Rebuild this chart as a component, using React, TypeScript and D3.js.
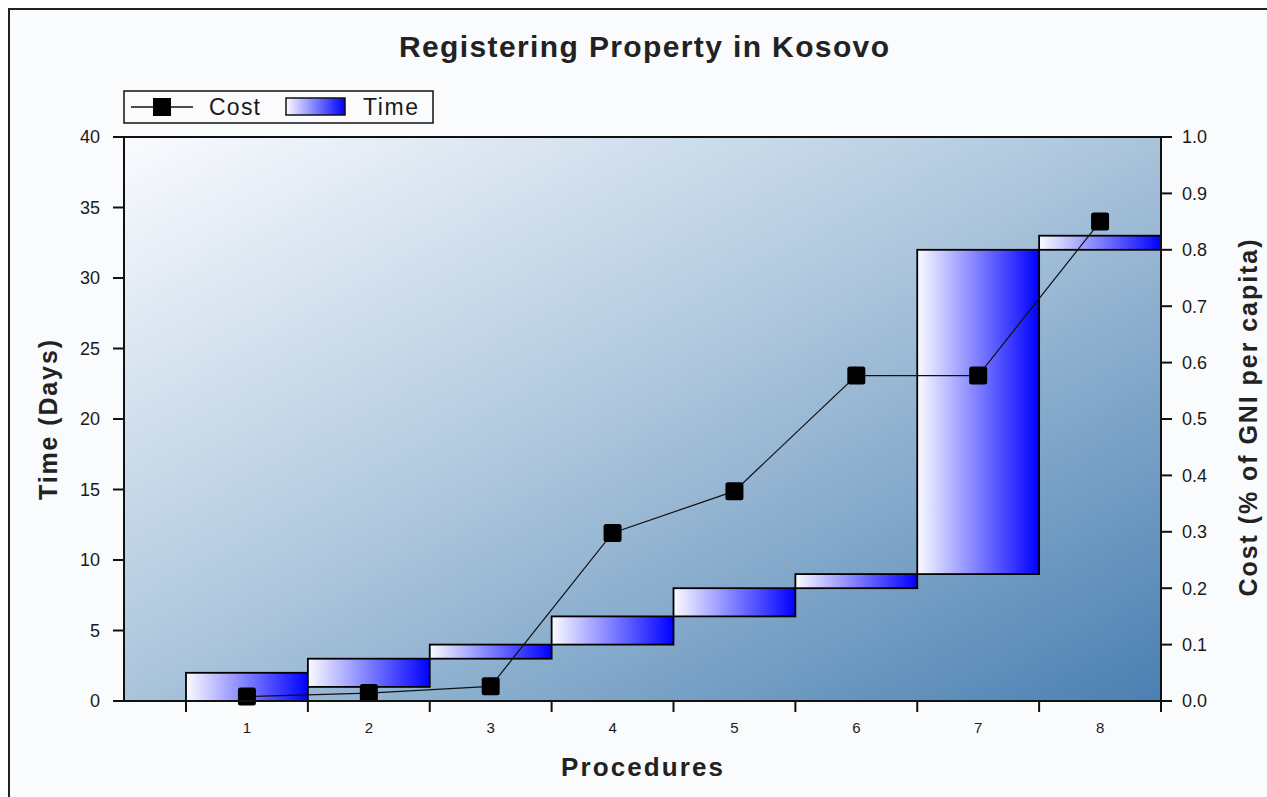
import React from "react";
import * as d3 from "d3";

// data
const procedures = ["1", "2", "3", "4", "5", "6", "7", "8"];
const timeStart = [0, 1, 3, 4, 6, 8, 9, 32];
const timeEnd = [2, 3, 4, 6, 8, 9, 32, 33];
const costValues = [0.008, 0.014, 0.026, 0.298, 0.372, 0.577, 0.577, 0.85];
const timeTicks = [0, 5, 10, 15, 20, 25, 30, 35, 40];
const costTicks = [0, 0.1, 0.2, 0.3, 0.4, 0.5, 0.6, 0.7, 0.8, 0.9, 1.0];

const W = 1267;
const H = 797;
const plot = { left: 124, right: 1161, top: 137, bottom: 701 };
const bandStart = 186;
const font = "'Liberation Sans', Arial, sans-serif";
const ink = "#1a1a1a";

export default function App() {
  const x = d3
    .scaleBand<string>()
    .domain(procedures)
    .range([bandStart, plot.right])
    .paddingInner(0)
    .paddingOuter(0);
  const bw = x.bandwidth();
  const yTime = d3.scaleLinear().domain([0, 40]).range([plot.bottom, plot.top]);
  const yCost = d3.scaleLinear().domain([0, 1]).range([plot.bottom, plot.top]);

  const costPts = procedures.map((p, i) => [x(p)! + bw / 2, yCost(costValues[i])] as [number, number]);
  const costLine = d3.line()(costPts) ?? "";

  const boundaries = d3.range(procedures.length + 1).map((i) => bandStart + i * bw);
  const marker = 18;

  return (
    <svg
      width={W}
      height={H}
      style={{ position: "absolute", left: 0, top: 0, fontFamily: font }}
    >
      <defs>
        <linearGradient id="bg" x1="0" y1="0" x2="1" y2="1">
          <stop offset="0" stopColor="#fafbff" />
          <stop offset="0.45" stopColor="#b2cadf" />
          <stop offset="1" stopColor="#4a80b2" />
        </linearGradient>
        <linearGradient id="bar" x1="0" y1="0" x2="1" y2="0">
          <stop offset="0" stopColor="#fbfbff" />
          <stop offset="1" stopColor="#0000ff" />
        </linearGradient>
        <clipPath id="plotClip">
          <rect x={plot.left} y={plot.top} width={plot.right - plot.left} height={plot.bottom - plot.top} />
        </clipPath>
      </defs>

      {/* page frame */}
      <rect x={0} y={0} width={W} height={H} fill="#fff" />
      <rect x={9} y={9} width={W + 40} height={H + 40} fill="#fafbfd" stroke="#222" strokeWidth={2} />

      {/* title */}
      <text
        x={644}
        y={57}
        textAnchor="middle"
        fontSize={30}
        fontWeight="bold"
        fill="#222"
        textLength={490}
        lengthAdjust="spacing"
      >
        Registering Property in Kosovo
      </text>

      {/* plot background */}
      <rect
        x={plot.left}
        y={plot.top}
        width={plot.right - plot.left}
        height={plot.bottom - plot.top}
        fill="url(#bg)"
      />

      {/* time bars */}
      <g clipPath="url(#plotClip)">
        {procedures.map((p, i) => (
          <rect
            key={p}
            x={x(p)!}
            y={yTime(timeEnd[i])}
            width={bw}
            height={yTime(timeStart[i]) - yTime(timeEnd[i])}
            fill="url(#bar)"
            stroke="#000"
            strokeWidth={1.8}
          />
        ))}
      </g>

      {/* cost line */}
      <path d={costLine} fill="none" stroke="#111" strokeWidth={1.2} />
      {costPts.map(([cx, cy], i) => (
        <rect
          key={i}
          x={cx - marker / 2}
          y={cy - marker / 2}
          width={marker}
          height={marker}
          rx={2.5}
          fill="#000"
        />
      ))}

      {/* frame of plot */}
      <rect
        x={plot.left}
        y={plot.top}
        width={plot.right - plot.left}
        height={plot.bottom - plot.top}
        fill="none"
        stroke="#111"
        strokeWidth={2}
      />

      {/* left axis */}
      <g fontSize={18} fill={ink}>
        {timeTicks.map((t) => (
          <g key={t}>
            <line x1={plot.left - 11} x2={plot.left} y1={yTime(t)} y2={yTime(t)} stroke="#111" strokeWidth={2} />
            <text x={100} y={yTime(t)} dy="0.36em" textAnchor="end">
              {t}
            </text>
          </g>
        ))}
      </g>

      {/* right axis */}
      <g fontSize={18} fill={ink}>
        {costTicks.map((t) => (
          <g key={t}>
            <line x1={plot.right} x2={plot.right + 11} y1={yCost(t)} y2={yCost(t)} stroke="#111" strokeWidth={2} />
            <text x={1182} y={yCost(t)} dy="0.36em" textAnchor="start">
              {d3.format(".1f")(t)}
            </text>
          </g>
        ))}
      </g>

      {/* bottom axis */}
      <g fontSize={15} fill={ink}>
        {boundaries.map((b, i) => (
          <line key={i} x1={b} x2={b} y1={plot.bottom} y2={plot.bottom + 11} stroke="#111" strokeWidth={2} />
        ))}
        {procedures.map((p) => (
          <text key={p} x={x(p)! + bw / 2} y={733} textAnchor="middle">
            {p}
          </text>
        ))}
      </g>

      {/* axis titles */}
      <text
        x={642}
        y={776}
        textAnchor="middle"
        fontSize={26}
        fontWeight="bold"
        fill="#222"
        textLength={162}
        lengthAdjust="spacing"
      >
        Procedures
      </text>
      <text
        transform="translate(57,420) rotate(-90)"
        textAnchor="middle"
        fontSize={25}
        fontWeight="bold"
        fill="#222"
        textLength={160}
        lengthAdjust="spacing"
      >
        Time (Days)
      </text>
      <text
        transform="translate(1257,418) rotate(-90)"
        textAnchor="middle"
        fontSize={25}
        fontWeight="bold"
        fill="#222"
        textLength={357}
        lengthAdjust="spacing"
      >
        Cost (% of GNI per capita)
      </text>

      {/* legend */}
      <g>
        <rect x={124} y={91} width={309} height={32} fill="#fafbfd" stroke="#111" strokeWidth={1.5} />
        <line x1={131} x2={193} y1={107} y2={107} stroke="#111" strokeWidth={1.5} />
        <rect x={162 - 9} y={107 - 9} width={18} height={18} fill="#000" />
        <text x={209} y={115} fontSize={23} fill={ink} textLength={51} lengthAdjust="spacing">
          Cost
        </text>
        <rect x={286} y={98} width={59} height={17} fill="url(#bar)" stroke="#111" strokeWidth={1.5} />
        <text x={363} y={115} fontSize={23} fill={ink} textLength={55} lengthAdjust="spacing">
          Time
        </text>
      </g>
    </svg>
  );
}
